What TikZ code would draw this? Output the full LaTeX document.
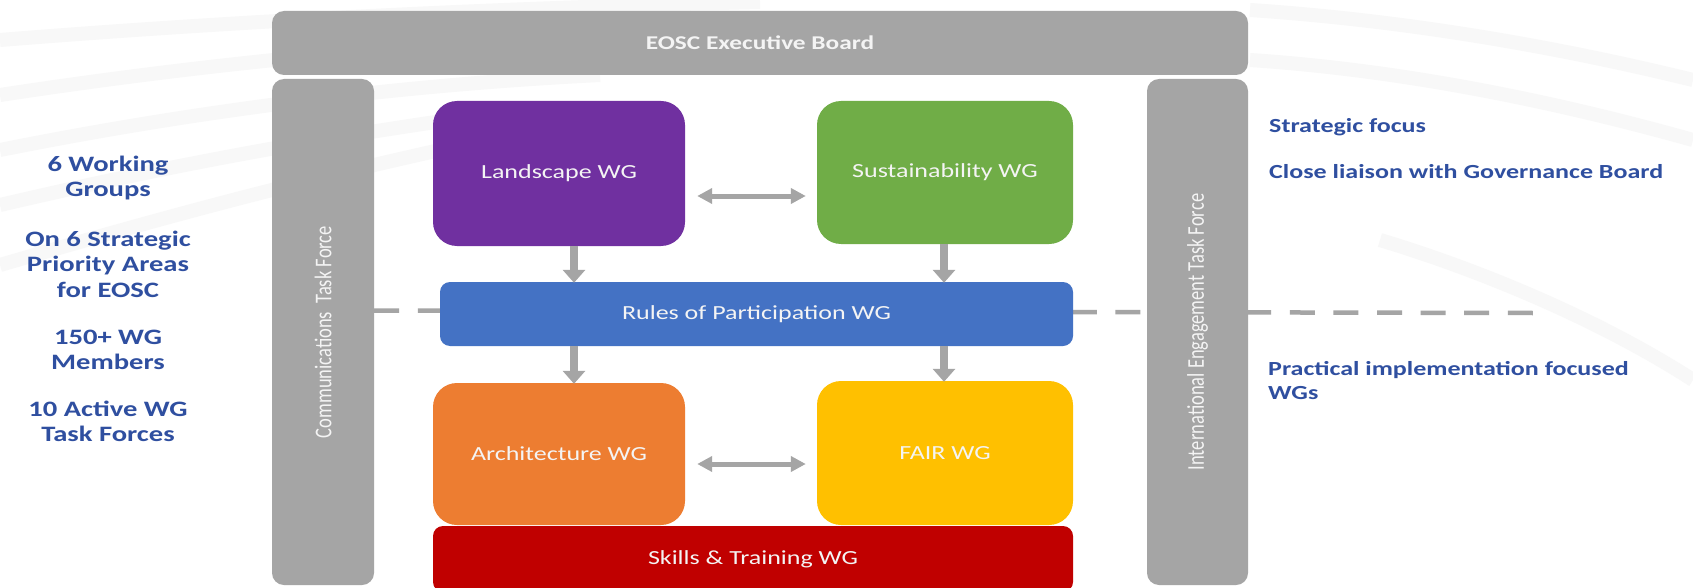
\documentclass[tikz,border=0pt]{standalone}
\usepackage{graphicx}
\usepackage{fontspec}
\setmainfont{Carlito}[FakeStretch=1.3]
\newfontfamily\plainfont{Carlito}
\usetikzlibrary{arrows.meta}
\definecolor{exgray}{HTML}{A5A5A5}
\definecolor{cpurple}{HTML}{7030A0}
\definecolor{cgreen}{HTML}{70AD47}
\definecolor{cblue}{HTML}{4472C4}
\definecolor{corange}{HTML}{ED7D31}
\definecolor{cyellow}{HTML}{FFC000}
\definecolor{cred}{HTML}{C00000}
\definecolor{txtblue}{HTML}{2F4FA0}
\definecolor{boxtxt}{HTML}{F4F4F4}
\definecolor{stripe}{HTML}{F8F8F8}
\begin{document}
\begin{tikzpicture}[x=1pt,y=-1pt,
  wgbox/.style={rounded corners=24pt, inner sep=0pt, text=boxtxt,
    font=\fontsize{20}{24}\selectfont},
  barbox/.style={rounded corners=10pt, inner sep=0pt, text=boxtxt,
    font=\fontsize{20}{24}\selectfont},
  graybar/.style={fill=exgray, rounded corners=12pt, inner sep=0pt, text=boxtxt},
  dnarrow/.style={draw=exgray, line width=8pt, -{Triangle[width=22pt,length=13pt]}},
  lrarrow/.style={draw=exgray, line width=5pt, {Triangle[width=15pt,length=15pt]}-{Triangle[width=15pt,length=15pt]}},
  dashline/.style={draw=exgray, line width=4.5pt, dash pattern=on 25pt off 18.6pt},
  lefttxt/.style={text=txtblue, align=center, inner sep=0pt,
    font=\bfseries\fontsize{22}{25.5}\selectfont},
  righttxt/.style={text=txtblue, align=left, anchor=west, inner sep=0pt,
    font=\bfseries\fontsize{20}{23.5}\selectfont},
  bgstripe/.style={draw=stripe, line width=14pt},
]
\useasboundingbox (0,0) rectangle (1693,588);
\fill[white] (0,0) rectangle (1693,588);

% faint background stripes
\draw[bgstripe] (0,40) .. controls (250,20) and (500,8) .. (760,2);
\draw[bgstripe] (0,95) .. controls (230,60) and (450,40) .. (720,30);
\draw[bgstripe] (0,150) .. controls (200,110) and (400,85) .. (600,75);
\draw[bgstripe] (0,205) .. controls (150,170) and (300,140) .. (520,110);
\draw[bgstripe] (0,265) .. controls (120,230) and (260,190) .. (440,150);
\draw[bgstripe] (1250,10) .. controls (1400,20) and (1550,45) .. (1693,80);
\draw[bgstripe] (1250,60) .. controls (1400,70) and (1550,100) .. (1693,140);
\draw[bgstripe] (1380,240) .. controls (1480,270) and (1600,320) .. (1693,380);

% grey frame
\node[graybar, minimum width=976pt, minimum height=64pt,
  font=\bfseries\fontsize{19.5}{23}\selectfont] (exec) at (760,43) {EOSC Executive Board};
\node[graybar, minimum width=102pt, minimum height=506pt] (comm) at (323,332) {};

% dashed separator (behind the boxes and the right bar)
\coordinate (dend) at (1533,313);
\draw[dashline] (comm.east |- 0,310.5) -- (dend);

\node[graybar, minimum width=101pt, minimum height=506pt] (intl) at (1197.5,332) {};
\node[text=boxtxt, rotate=90, inner sep=0pt] (commtxt) at (comm.center)
  {\plainfont\fontsize{18.5}{22}\selectfont\scalebox{1}[1.3]{Communications\ \ Task Force}};
\node[text=boxtxt, rotate=90, inner sep=0pt] (intltxt) at (intl.center)
  {\plainfont\fontsize{18.5}{22}\selectfont\scalebox{1}[1.3]{International Engagement Task Force}};

% working groups
\node[wgbox, fill=cpurple, minimum width=252pt, minimum height=145pt] (land) at (559,173.5) {Landscape WG};
\node[wgbox, fill=cgreen, minimum width=256pt, minimum height=143pt] (sust) at (945,172.5) {Sustainability WG};
\node[barbox, fill=cblue, minimum width=633pt, minimum height=64pt] (rules) at (756.5,314) {Rules of Participation WG};
\node[barbox, fill=cred, minimum width=640pt, minimum height=66pt] (skills) at (753,559) {Skills \& Training WG};
\node[wgbox, fill=corange, minimum width=252pt, minimum height=142pt] (arch) at (559,454) {Architecture WG};
\node[wgbox, fill=cyellow, minimum width=256pt, minimum height=144pt] (fair) at (945,453) {FAIR WG};

% connectors
\coordinate (ax1) at (574,0);
\coordinate (ax2) at (944,0);
\coordinate (hy1) at (0,196);
\coordinate (hy2) at (0,464);
\draw[dnarrow] (land.south -| ax1) -- ([yshift=-1pt]rules.north -| ax1);
\draw[dnarrow] (sust.south -| ax2) -- ([yshift=-1pt]rules.north -| ax2);
\draw[dnarrow] (rules.south -| ax1) -- ([yshift=-1pt]arch.north -| ax1);
\draw[dnarrow] (rules.south -| ax2) -- ([yshift=-1pt]fair.north -| ax2);
\draw[lrarrow, shorten <=12pt, shorten >=11pt] (land.east |- hy1) -- (sust.west |- hy1);
\draw[lrarrow, shorten <=12pt, shorten >=11pt] (arch.east |- hy2) -- (fair.west |- hy2);

% side texts
\node[lefttxt] (t1) at (108,178) {6 Working\\Groups};
\node[lefttxt] (t2) at (108,264) {On 6 Strategic\\Priority Areas\\for EOSC};
\node[lefttxt] (t3) at (108,350) {150+ WG\\Members};
\node[lefttxt] (t4) at (108,421.5) {10 Active WG\\Task Forces};
\node[righttxt] (r1) at (1269,127) {Strategic focus};
\node[righttxt] (r2) at (1269,172) {Close liaison with Governance Board};
\node[righttxt] (r3) at (1268,380.5) {Practical implementation focused\\WGs};
\end{tikzpicture}
\end{document}
